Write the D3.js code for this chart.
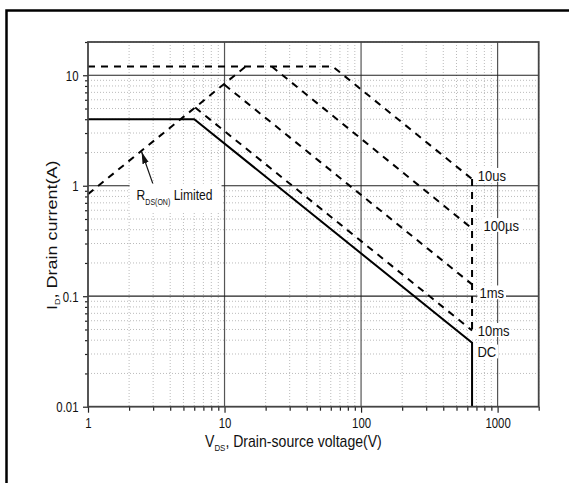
<!DOCTYPE html>
<html>
<head>
<meta charset="utf-8">
<script src="https://cdn.jsdelivr.net/npm/d3@7"></script>
<style>
  body { margin: 0; background: #fff; }
  svg { display: block; }
</style>
</head>
<body>
<svg id="chart" width="569" height="483"></svg>
<script>
// tick values
const vdsMajor = [1, 10, 100, 1000];
const vdsLabels = ["1", "10", "100", "1000"];
const idMajor = [0.01, 0.1, 1, 10];
const idLabels = ["0.01", "0.1", "1", "10"];

// SOA boundaries as [V, A] pairs
const dcLine = [[1, 4], [6, 4], [650, 0.038], [650, 0.01]];
const us10Line = [[1, 12], [62, 12], [650, 1.15]];
const us100Line = [[22.2, 12], [650, 0.41]];
const ms1Line = [[10, 8.2], [650, 0.128]];
const ms10Line = [[6.1, 5.1], [650, 0.049]];
const rdsLine = [[1, 0.84], [14.3, 12]];
const bvLine = [[650, 1.15], [650, 0.049]];

const curveLabels = [
  { text: "10us", v: 716, i: 1.25 },
  { text: "100\u00b5s", v: 787, i: 0.44 },
  { text: "1ms", v: 736, i: 0.108 },
  { text: "10ms", v: 716, i: 0.0494 },
  { text: "DC", v: 712, i: 0.0315 }
];

const svg = d3.select('#chart');
const margin = { left: 88, top: 42 };
const w = 450.7, h = 364.7;
const font = '"Liberation Sans", Arial, sans-serif';

// outer frame, only top and left edges show
svg.append('rect')
  .attr('x', 6.5).attr('y', 10.5)
  .attr('width', 700).attr('height', 600)
  .attr('fill', 'none').attr('stroke', '#000').attr('stroke-width', 2.5);

const x = d3.scaleLog().domain([1, 2000]).range([0, w]);
const y = d3.scaleLog().domain([0.01, 20]).range([h, 0]);

const g = svg.append('g').attr('transform', `translate(${margin.left},${margin.top})`);

// minor values 2..9 per decade
const minorOf = (lo, hi) => {
  const out = [];
  for (let d = lo; d < hi; d *= 10) {
    for (let k = 2; k <= 9; k++) if (d * k <= hi) out.push(d * k);
  }
  return out;
};
const vdsMinor = minorOf(1, 2000);
const idMinor = minorOf(0.01, 20);

// dotted minor grid
g.append('g').selectAll('line').data(vdsMinor).join('line')
  .attr('x1', d => x(d)).attr('x2', d => x(d))
  .attr('y1', 0).attr('y2', h)
  .attr('stroke', '#bbb').attr('stroke-width', 1).attr('stroke-dasharray', '1,2');
g.append('g').selectAll('line').data(idMinor).join('line')
  .attr('x1', 0).attr('x2', w)
  .attr('y1', d => y(d)).attr('y2', d => y(d))
  .attr('stroke', '#bbb').attr('stroke-width', 1).attr('stroke-dasharray', '1,2');

// solid decade grid
g.append('g').selectAll('line').data(vdsMajor.slice(1)).join('line')
  .attr('x1', d => x(d)).attr('x2', d => x(d))
  .attr('y1', 0).attr('y2', h)
  .attr('stroke', '#555').attr('stroke-width', 1.2);
g.append('g').selectAll('line').data(idMajor.slice(1)).join('line')
  .attr('x1', 0).attr('x2', w)
  .attr('y1', d => y(d)).attr('y2', d => y(d))
  .attr('stroke', '#222').attr('stroke-width', 1.2);

// the source picture is squeezed sideways, so text is scaled in x
function boxedLabel(px, py, sx, size, build, pad) {
  const lg = g.append('g').attr('transform', `translate(${px},${py}) scale(${sx},1)`);
  const t = lg.append('text')
    .attr('font-family', font).attr('font-size', size).attr('fill', '#111');
  build(t);
  const b = t.node().getBBox();
  lg.insert('rect', 'text')
    .attr('x', b.x - pad[0] / sx).attr('y', b.y + pad[1])
    .attr('width', b.width + (pad[0] + pad[2]) / sx)
    .attr('height', b.height - pad[1] + pad[3])
    .attr('fill', '#fff');
}

curveLabels.forEach(d => {
  boxedLabel(x(d.v), y(d.i) + 5.5, 0.84, 15.5, t => t.text(d.text), [2, 1.5, 2, -2]);
});

// RDS(on) label
boxedLabel(x(2.27), y(0.82) + 5, 0.78, 15.5, t => {
  t.append('tspan').text('R');
  t.append('tspan').attr('font-size', 9).attr('dy', 5).text('DS(ON)');
  t.append('tspan').attr('dy', -5).text(' Limited');
}, [7, -2, 9, 4]);

// arrow to the RDS(on) line
svg.append('defs').append('marker')
  .attr('id', 'head').attr('viewBox', '0 0 10 10')
  .attr('refX', 10).attr('refY', 5)
  .attr('markerWidth', 10).attr('markerHeight', 10)
  .attr('orient', 'auto')
  .append('path').attr('d', 'M0,2.3 L10,5 L0,7.7 Z').attr('fill', '#111');
g.append('line')
  .attr('x1', x(2.98)).attr('y1', y(1.05))
  .attr('x2', x(2.47)).attr('y2', y(2.03))
  .attr('stroke', '#111').attr('stroke-width', 1.2)
  .attr('marker-end', 'url(#head)');

// boundaries
const line = d3.line().x(d => x(d[0])).y(d => y(d[1]));
const dashed = [us10Line, us100Line, ms1Line, ms10Line, rdsLine, bvLine];
g.append('g').selectAll('path').data(dashed).join('path')
  .attr('d', line)
  .attr('fill', 'none').attr('stroke', '#000')
  .attr('stroke-width', 2).attr('stroke-dasharray', '7,6');
g.append('path')
  .attr('d', line(dcLine))
  .attr('fill', 'none').attr('stroke', '#000').attr('stroke-width', 2);

// axes
const tickScale = 0.76;
const axisStyle = sel => {
  sel.select('.domain').remove();
  sel.selectAll('line').attr('stroke', '#222').attr('stroke-width', 1.2);
  sel.selectAll('text').attr('font-family', font).attr('font-size', 15).attr('fill', '#111');
};
g.append('g').attr('transform', `translate(0,${h})`)
  .call(d3.axisBottom(x).tickValues(vdsMajor).tickSize(6).tickPadding(5)
    .tickFormat((d, i) => vdsLabels[i]))
  .call(axisStyle)
  .call(s => s.selectAll('text').attr('transform', `scale(${tickScale},1)`));
g.append('g').attr('transform', `translate(0,${h})`)
  .call(d3.axisBottom(x).tickValues(vdsMinor).tickSize(4).tickFormat(''))
  .call(axisStyle);
g.append('g')
  .call(d3.axisLeft(y).tickValues(idMajor).tickSize(5).tickPadding(4)
    .tickFormat((d, i) => idLabels[i]))
  .call(axisStyle)
  .call(s => s.selectAll('text')
    .attr('x', -9.5 / tickScale)
    .attr('transform', `scale(${tickScale},1)`));
g.append('g')
  .call(d3.axisLeft(y).tickValues(idMinor).tickSize(3).tickFormat(''))
  .call(axisStyle);

// plot frame
g.append('rect')
  .attr('width', w).attr('height', h)
  .attr('fill', 'none').attr('stroke', '#444').attr('stroke-width', 1.8);

// axis titles
const xt = svg.append('text')
  .attr('transform', 'translate(205,446.5) scale(0.88,1)')
  .attr('font-family', font).attr('font-size', 16).attr('fill', '#111');
xt.append('tspan').text('V');
xt.append('tspan').attr('font-size', 9).attr('dy', 4).text('DS');
xt.append('tspan').attr('dy', -4).text(', Drain-source voltage(V)');

const yt = svg.append('text')
  .attr('transform', 'translate(57,310) scale(0.85,1) rotate(-90)')
  .attr('font-family', font).attr('font-size', 18).attr('fill', '#111');
yt.append('tspan').text('I');
yt.append('tspan').attr('font-size', 9).attr('dy', 4).text('D');
yt.append('tspan').attr('dy', -4).text(', Drain current(A)');
</script>
</body>
</html>
